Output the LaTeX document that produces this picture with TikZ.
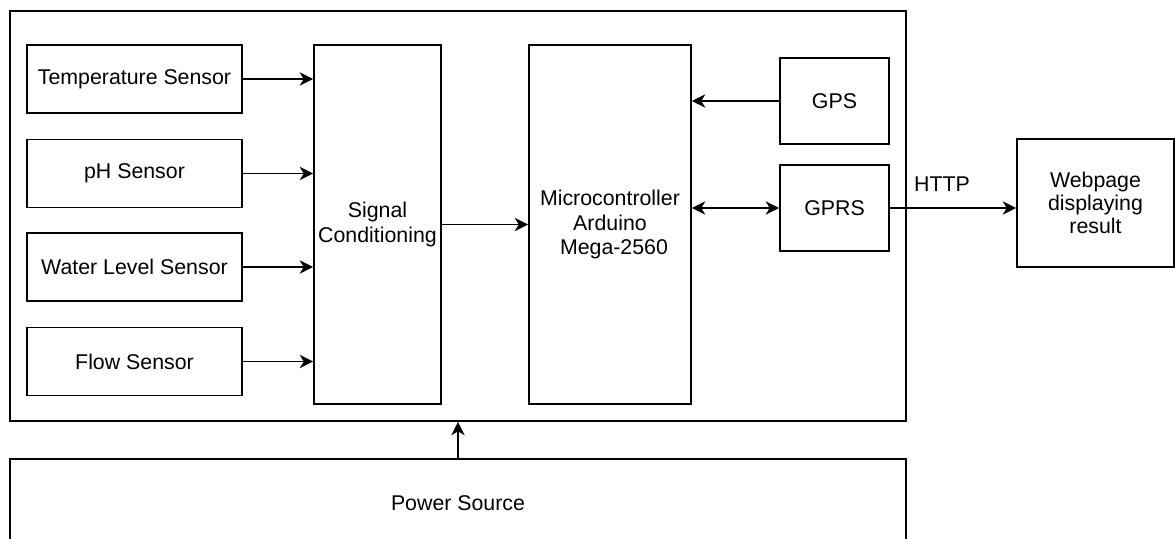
\documentclass[tikz,border=0pt]{standalone}
\usepackage{fontspec}
\setmainfont{Liberation Sans}
\usetikzlibrary{arrows.meta}
\tikzset{
  blk/.style={draw=black, line width=1.4pt, rectangle, inner sep=0pt, align=center,
    font=\fontsize{16}{18.4}\selectfont},
  conn/.style={line width=1.4pt, -{Stealth[length=10pt,width=10pt,inset=3pt]}},
  bconn/.style={line width=1.4pt, {Stealth[length=10pt,width=10pt,inset=3pt]}-{Stealth[length=10pt,width=10pt,inset=3pt]}},
  lbl/.style={inner sep=0pt, font=\fontsize{16}{18.4}\selectfont},
}
\begin{document}
\begin{tikzpicture}[x=0.75pt,y=-0.75pt]
\useasboundingbox[fill=white] (0,0) rectangle (1175,539);
% outer system box
\node[blk, minimum width=896*0.75pt, minimum height=410*0.75pt] (outer) at (458,216) {};
% sensors
\node[blk, minimum width=215*0.75pt, minimum height=68*0.75pt] (temp) at (134.5,79) {Temperature Sensor};
\node[blk, minimum width=215*0.75pt, minimum height=68*0.75pt] (ph) at (134.5,173.5) {pH Sensor};
\node[blk, minimum width=215*0.75pt, minimum height=68*0.75pt] (water) at (134.5,267) {Water Level Sensor};
\node[blk, minimum width=215*0.75pt, minimum height=68*0.75pt] (flow) at (134.5,361.5) {Flow Sensor};
% signal conditioning
\node[blk, minimum width=127*0.75pt, minimum height=359*0.75pt] (sig) at (377.5,224.5) {Signal\\Conditioning};
% microcontroller
\node[blk, minimum width=162*0.75pt, minimum height=359*0.75pt] (mcu) at (610,224.5) {Microcontroller\\Arduino\\\hspace{6pt}Mega-2560};
% GPS / GPRS
\node[blk, minimum width=109*0.75pt, minimum height=86*0.75pt] (gps) at (834.5,101) {GPS};
\node[blk, minimum width=109*0.75pt, minimum height=86*0.75pt] (gprs) at (834.5,208) {GPRS};
% webpage
\node[blk, minimum width=157*0.75pt, minimum height=128*0.75pt, font=\fontsize{16}{17.3}\selectfont] (web) at (1095.5,203) {Webpage\\displaying\\result};
% power source
\node[blk, minimum width=896*0.75pt, minimum height=88*0.75pt] (power) at (458,503) {Power Source};
% connectors
\draw[conn] (temp.east) -- (temp.east -| sig.west);
\draw[conn] (ph.east) -- (ph.east -| sig.west);
\draw[conn] (water.east) -- (water.east -| sig.west);
\draw[conn] (flow.east) -- (flow.east -| sig.west);
\draw[conn] (sig.east) -- (mcu.west);
\draw[conn] (gps.west) -- (gps.west -| mcu.east);
\draw[bconn] (gprs.west -| mcu.east) -- (gprs.west);
\draw[conn] (gprs.east) -- (gprs.east -| web.west);
\node[lbl] (http) at (942,184) {HTTP};
\draw[conn] (power.north) -- (outer.south);
\end{tikzpicture}
\end{document}
